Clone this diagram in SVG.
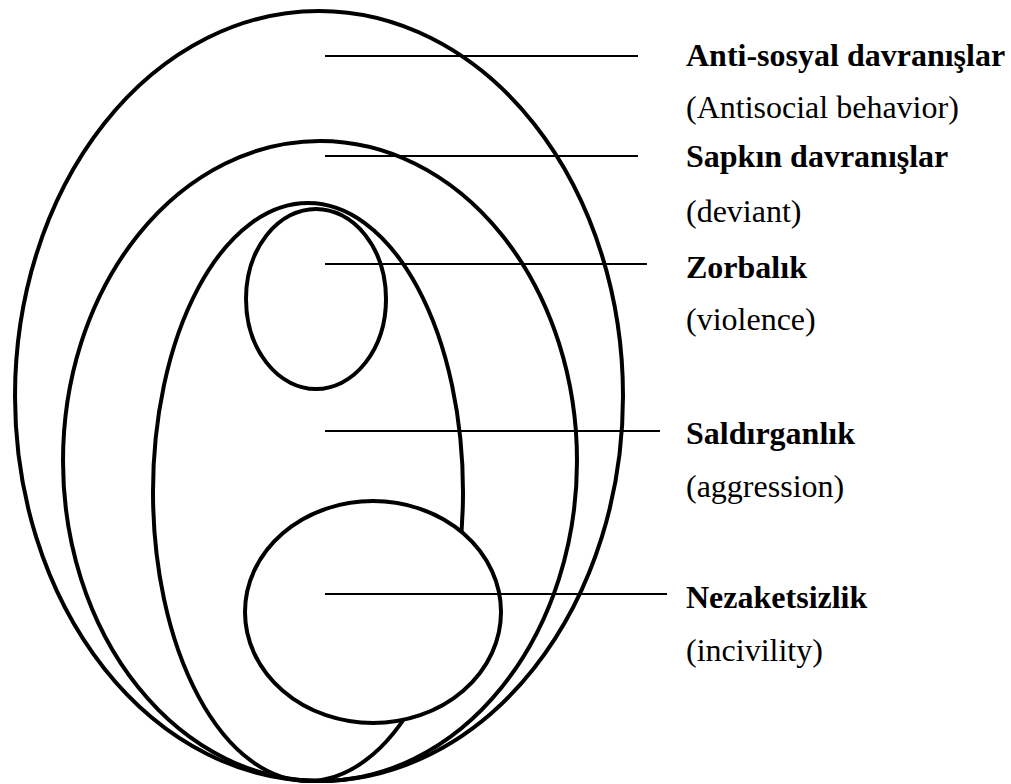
<svg xmlns="http://www.w3.org/2000/svg" width="1011" height="784" viewBox="0 0 1011 784">
<style>
.e{fill:none;stroke:#000;stroke-width:4}
.ew{fill:#fff;stroke:#000;stroke-width:4}
.c line{stroke:#000;stroke-width:2}
text{font-family:'Liberation Serif','Times New Roman',Tinos,'DejaVu Serif',serif;font-size:32px;fill:#000}
.b{font-weight:bold}
</style>
<rect width="1011" height="784" fill="#fff"/>
<g id="antisocial"><ellipse class="e" cx="319" cy="396" rx="304" ry="385"/></g>
<g id="deviant"><ellipse class="e" cx="320" cy="461" rx="257" ry="320"/></g>
<g id="aggression"><ellipse class="e" cx="308" cy="492" rx="155" ry="289"/></g>
<g id="violence"><ellipse class="e" cx="316" cy="299" rx="70" ry="90"/></g>
<g id="incivility"><ellipse class="ew" cx="373" cy="612" rx="128" ry="111"/></g>
<g id="connectors" class="c">
<line x1="325" y1="56" x2="638" y2="56"/>
<line x1="325" y1="156" x2="638" y2="156"/>
<line x1="325" y1="264" x2="647" y2="264"/>
<line x1="325" y1="431" x2="660" y2="431"/>
<line x1="325" y1="594" x2="667" y2="594"/>
</g>
<g id="labels" font-family="Liberation Serif, serif">
<text class="b" x="686" y="66">Anti-sosyal davranışlar</text>
<text x="686" y="118">(Antisocial behavior)</text>
<text class="b" x="686" y="167">Sapkın davranışlar</text>
<text x="686" y="222">(deviant)</text>
<text class="b" x="686" y="278">Zorbalık</text>
<text x="686" y="330">(violence)</text>
<text class="b" x="686" y="444">Saldırganlık</text>
<text x="686" y="497">(aggression)</text>
<text class="b" x="686" y="608">Nezaketsizlik</text>
<text x="686" y="661">(incivility)</text>
</g>
</svg>
